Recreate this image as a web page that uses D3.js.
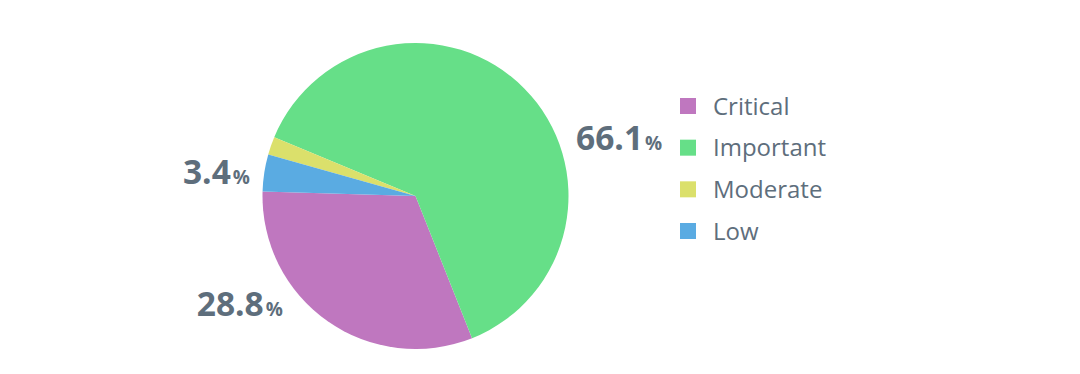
<!DOCTYPE html>
<html>
<head>
<meta charset="utf-8">
<script src="https://cdn.jsdelivr.net/npm/d3@7"></script>
<style>
  html, body { margin: 0; padding: 0; background: #fff; }
  svg { display: block; font-family: "Open Sans", "Noto Sans", sans-serif; }
</style>
</head>
<body>
<svg id="chart" width="1080" height="374"></svg>
<script>
// ---- data ----
const categories = ["Critical", "Important", "Moderate", "Low"];
const sliceValues = [31.5, 62.7, 1.9, 3.9];          // slice sizes as drawn
const percentLabels = ["28.8", "66.1", "", "3.4"];   // printed labels
const colors = ["#bf77bf", "#66df88", "#dbe06b", "#5aabe2"];

// ---- layout ----
const W = 1080, H = 374;
const cx = 415.5, cy = 196, R = 153;
const textColor = "#5e6e7c";
const deg = Math.PI / 180;
const startDeg = 271.7;
// label anchor placement (angle clockwise from top, radius, text-anchor)
const labelLayout = {
  "Important": { angle: 74.0, r: 167, anchor: "start" },
  "Low":       { angle: 274.1, r: 166, anchor: "end" },
  "Critical":  { angle: 227.8, r: 179, anchor: "end" }
};

const svg = d3.select("#chart");
const data = categories.map((c, i) => ({ cat: c, value: sliceValues[i], label: percentLabels[i], color: colors[i] }));

const pie = d3.pie()
  .sort(null)
  .value(d => d.value)
  .startAngle(startDeg * deg)
  .endAngle(startDeg * deg - 2 * Math.PI);

const arc = d3.arc().innerRadius(0).outerRadius(R);

const g = svg.append("g").attr("transform", `translate(${cx},${cy})`);
g.selectAll("path.slice")
  .data(pie(data))
  .join("path")
  .attr("class", "slice")
  .attr("d", arc)
  .attr("fill", d => d.data.color);

// percentage labels
data.forEach(d => {
  if (!d.label) return;
  const L = labelLayout[d.cat];
  const a = L.angle * deg;
  const x = L.r * Math.sin(a), y = -L.r * Math.cos(a);
  const t = g.append("text")
    .attr("x", x).attr("y", y)
    .attr("text-anchor", L.anchor)
    .attr("fill", textColor)
    .attr("font-weight", 700);
  t.append("tspan").attr("font-size", 33.5).text(d.label);
  t.append("tspan").attr("font-size", 19).attr("dx", 2).text("%");
});

// legend
const legendY = d3.scalePoint().domain(categories).range([106, 231]);
const lg = svg.append("g");
const items = lg.selectAll("g.item").data(data).join("g").attr("class", "item")
  .attr("transform", d => `translate(680,${legendY(d.cat)})`);
items.append("rect").attr("x", 0).attr("y", -8).attr("width", 16).attr("height", 16).attr("fill", d => d.color);
items.append("text").attr("x", 33).attr("y", 8.5)
  .attr("font-size", 24).attr("fill", textColor).text(d => d.cat);
</script>
</body>
</html>
